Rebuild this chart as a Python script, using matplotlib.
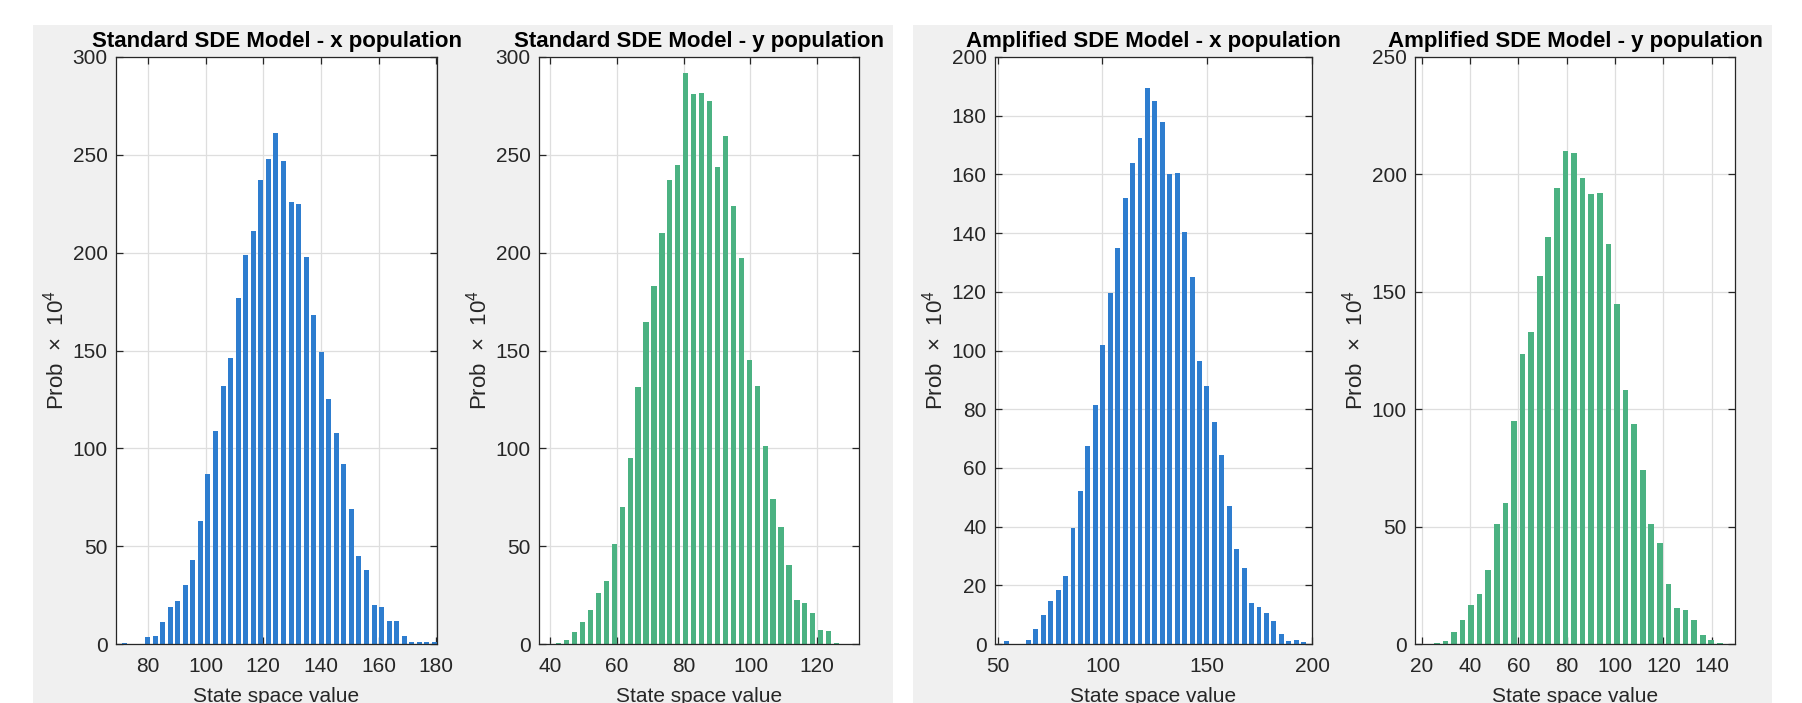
import matplotlib
matplotlib.use('Agg')
import matplotlib.pyplot as plt
from matplotlib.patches import Rectangle
import numpy as np

plt.rcParams['font.family'] = ['Liberation Sans', 'DejaVu Sans']
plt.rcParams['mathtext.fontset'] = 'custom'
plt.rcParams['mathtext.rm'] = 'Liberation Sans'
plt.rcParams['mathtext.it'] = 'Liberation Sans:italic'
plt.rcParams['mathtext.bf'] = 'Liberation Sans:bold'

# histogram counts (Prob x 10^4)
std_x_counts = [0.5, 0, 0, 3.5, 4, 11, 19, 22, 30, 43, 63, 87, 109, 132, 146,
                177, 199, 211, 237, 248, 261, 247, 226, 225, 198, 168, 149, 125,
                108, 92, 69, 45, 38, 20, 19, 12, 12, 4, 1, 1, 1, 1]
std_y_counts = [0.5, 2, 6, 11, 17.5, 26, 32, 51, 70, 95, 131.5, 164.5, 183, 210,
                237, 245, 292, 281, 281.5, 277.5, 244, 259.5, 224, 197.5, 145,
                132, 101, 74, 60, 40.5, 22.5, 21, 16, 7, 6.5, 0.5]
amp_x_counts = [1, 0, 0, 1.5, 5, 10, 14.5, 18.5, 23, 39.5, 52, 67.5, 81.5, 102,
                119.5, 135, 152, 164, 172.5, 189.5, 185, 178, 160, 160.5, 140.5,
                125, 96.5, 88, 75.5, 64.5, 47, 32.5, 26, 14, 12.7, 10.5, 8, 3.5,
                1, 1.5, 0.7]
amp_y_counts = [0.5, 1.3, 5, 10.4, 16.7, 21.5, 31.6, 51, 60, 95, 123.7, 133,
                156.6, 173.3, 194, 210, 209, 198.6, 191.7, 192, 170.4, 144.6, 108,
                93.6, 74.2, 51.2, 43.1, 25.7, 15.5, 14.4, 10.2, 3.8, 1.9, 0.6]

# first bin centre and bin width for each histogram
std_x_bins = (72.0, 2.62)
std_y_bins = (42.6, 2.377)
amp_x_bins = (54.0, 3.55)
amp_y_bins = (26.2, 3.55)

titles = ['Standard SDE Model - x population', 'Standard SDE Model - y population',
          'Amplified SDE Model - x population', 'Amplified SDE Model - y population']
xticks = [[80, 100, 120, 140, 160, 180], [40, 60, 80, 100, 120],
          [50, 100, 150, 200], [20, 40, 60, 80, 100, 120, 140]]
yticks = [[0, 50, 100, 150, 200, 250, 300], [0, 50, 100, 150, 200, 250, 300],
          [0, 20, 40, 60, 80, 100, 120, 140, 160, 180, 200],
          [0, 50, 100, 150, 200, 250]]
xlims = [(68.9, 180.3), (36.7, 132.5), (48.7, 200), (17.2, 149.6)]

BLUE = '#2e7dcf'
GREEN = '#4bb282'
TXT = '#262626'

fig = plt.figure(figsize=(18.02, 7.03), dpi=100)
fig.patch.set_facecolor('white')

# two grey figure backgrounds (one per model)
W, H = 1802.0, 703.0
for x0, x1 in [(33, 893), (913, 1772)]:
    fig.add_artist(Rectangle((x0 / W, 0), (x1 - x0) / W, 1 - 25 / H,
                             transform=fig.transFigure, facecolor='#f0f0f0',
                             edgecolor='none', zorder=-10))

lefts = [116, 539, 995, 1415]
widths = [321, 320, 317, 320]
top, bottom = 57, 644

data = [(std_x_counts, std_x_bins, BLUE), (std_y_counts, std_y_bins, GREEN),
        (amp_x_counts, amp_x_bins, BLUE), (amp_y_counts, amp_y_bins, GREEN)]

for i, (counts, (c0, step), color) in enumerate(data):
    ax = fig.add_axes([lefts[i] / W, 1 - bottom / H, widths[i] / W, (bottom - top) / H])
    centers = c0 + step * np.arange(len(counts))
    ax.bar(centers, counts, width=step * 0.66, color=color, linewidth=0, zorder=2)
    ax.set_xlim(*xlims[i])
    ax.set_ylim(0, yticks[i][-1])
    ax.set_xticks(xticks[i])
    ax.set_yticks(yticks[i])
    ax.grid(True, color='#dedede', linewidth=0.9, zorder=0)
    ax.set_axisbelow(True)
    ax.tick_params(direction='in', top=True, right=True, length=5, width=0.9,
                   colors=TXT, labelsize=15)
    ax.tick_params(axis='x', pad=9)
    ax.tick_params(axis='y', pad=6)
    for s in ax.spines.values():
        s.set_color(TXT)
        s.set_linewidth(0.9)
    ax.set_title(titles[i], fontsize=16, fontweight='bold', pad=7)
    ax.set_xlabel('State space value', fontsize=15, color=TXT, labelpad=8)
    ax.set_ylabel('Prob  \u00d7  10$^4$', fontsize=16, color=TXT, labelpad=3)

plt.savefig('out.png', dpi=100)
plt.close()
